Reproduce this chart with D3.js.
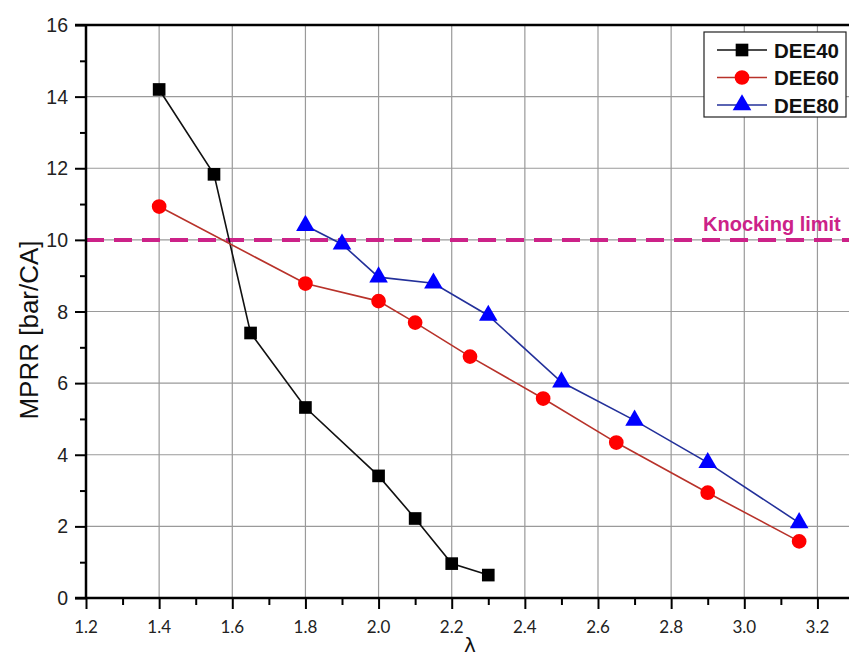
<!DOCTYPE html>
<html>
<head>
<meta charset="utf-8">
<script src="https://cdn.jsdelivr.net/npm/d3@7"></script>
<style>
  body { margin: 0; background: #fff; }
  svg { display: block; }
</style>
</head>
<body>
<svg width="849" height="659"></svg>
<script>
// values
const dee40X = [1.4, 1.55, 1.65, 1.8, 2.0, 2.1, 2.2, 2.3];
const dee40Y = [14.2, 11.83, 7.4, 5.32, 3.41, 2.22, 0.96, 0.64];
const dee60X = [1.4, 1.8, 2.0, 2.1, 2.25, 2.45, 2.65, 2.9, 3.15];
const dee60Y = [10.93, 8.78, 8.29, 7.69, 6.74, 5.57, 4.34, 2.94, 1.58];
const dee80X = [1.8, 1.9, 2.0, 2.15, 2.3, 2.5, 2.7, 2.9, 3.15];
const dee80Y = [10.4, 9.88, 8.96, 8.79, 7.89, 6.03, 4.96, 3.78, 2.1];
const knockLimit = 10;
const xTicks = [1.2, 1.4, 1.6, 1.8, 2.0, 2.2, 2.4, 2.6, 2.8, 3.0, 3.2];
const yTicks = [0, 2, 4, 6, 8, 10, 12, 14, 16];

const svg = d3.select('svg');
const plotL = 86, plotR = 854, plotT = 25, plotB = 598;

const x = d3.scaleLinear().domain([1.2, 3.3]).range([plotL, plotR]);
const y = d3.scaleLinear().domain([0, 16]).range([plotB, plotT]);

const series = [
    {name: 'DEE40', xs: dee40X, ys: dee40Y, line: '#111', fill: '#000', shape: d3.symbolSquare, size: 160},
    {name: 'DEE60', xs: dee60X, ys: dee60Y, line: '#b8322a', fill: '#ff0000', shape: d3.symbolCircle, size: 170},
    {name: 'DEE80', xs: dee80X, ys: dee80Y, line: '#23309a', fill: '#0000ff', shape: d3.symbolTriangle, size: 150}
];

// grid
const grid = svg.append('g');
grid.selectAll('.gx')
    .data(xTicks.slice(1))
    .enter()
    .append('line')
    .attr('x1', d => x(d)).attr('x2', d => x(d))
    .attr('y1', plotT).attr('y2', plotB)
    .attr('stroke', '#9a9a9a').attr('stroke-width', 1.2);
grid.selectAll('.gy')
    .data(yTicks.slice(1, -1))
    .enter()
    .append('line')
    .attr('x1', plotL).attr('x2', 849)
    .attr('y1', d => y(d)).attr('y2', d => y(d))
    .attr('stroke', '#9a9a9a').attr('stroke-width', 1.2);

// knocking limit
svg.append('line')
    .attr('x1', plotL).attr('x2', 849)
    .attr('y1', y(knockLimit)).attr('y2', y(knockLimit))
    .attr('stroke', '#cc2288')
    .attr('stroke-width', 4)
    .attr('stroke-dasharray', '18,10');

svg.append('text')
    .attr('x', 703)
    .attr('y', 231)
    .text('Knocking limit')
    .style('font-family', 'Liberation Sans, Arial, sans-serif')
    .style('font-size', '20px')
    .style('font-weight', 'bold')
    .style('fill', '#cc2288');

// axes
const xAxis = d3.axisBottom(x)
    .tickValues(d3.range(12, 33).map(d => d / 10))
    .tickSize(0)
    .tickFormat('');
const gx = svg.append('g').attr('transform', `translate(0,${plotB})`);
gx.call(xAxis);
gx.select('.domain').remove();
gx.selectAll('.tick line')
    .attr('y2', (d, i) => i % 2 === 0 ? 11 : 7)
    .attr('stroke', '#000')
    .attr('stroke-width', 2);
gx.selectAll('.lbl')
    .data(xTicks)
    .enter()
    .append('text')
    .attr('x', d => x(d))
    .attr('y', 35)
    .attr('text-anchor', 'middle')
    .text(d => d.toFixed(1))
    .style('font-family', 'Lato, sans-serif')
    .style('font-size', '17px')
    .style('fill', '#222');

const yAxis = d3.axisLeft(y)
    .tickValues(d3.range(0, 17))
    .tickSize(0)
    .tickFormat('');
const gy = svg.append('g').attr('transform', `translate(${plotL},0)`);
gy.call(yAxis);
gy.select('.domain').remove();
gy.selectAll('.tick line')
    .attr('x2', (d, i) => i % 2 === 0 ? -11 : -6)
    .attr('stroke', '#000')
    .attr('stroke-width', 2);
gy.selectAll('.lbl')
    .data(yTicks)
    .enter()
    .append('text')
    .attr('x', -18)
    .attr('y', d => y(d) + 7)
    .attr('text-anchor', 'end')
    .text(d => d)
    .style('font-family', 'Liberation Sans, Arial, sans-serif')
    .style('font-size', '19.5px')
    .style('fill', '#222');

// frame lines
svg.append('line')
    .attr('x1', plotL).attr('x2', plotL).attr('y1', plotT - 1).attr('y2', plotB + 1)
    .attr('stroke', '#000').attr('stroke-width', 2.5);
svg.append('line')
    .attr('x1', plotL - 11).attr('x2', 849).attr('y1', plotB).attr('y2', plotB)
    .attr('stroke', '#000').attr('stroke-width', 2.5);
svg.append('line')
    .attr('x1', plotL - 11).attr('x2', 849).attr('y1', plotT).attr('y2', plotT)
    .attr('stroke', '#000').attr('stroke-width', 2.5);

// axis titles
svg.append('text')
    .attr('transform', 'translate(38,330) rotate(-90)')
    .attr('text-anchor', 'middle')
    .text('MPRR [bar/CA]')
    .style('font-family', 'Liberation Sans, Arial, sans-serif')
    .style('font-size', '26px')
    .style('fill', '#111');

svg.append('text')
    .attr('x', x(2.25))
    .attr('y', 652)
    .attr('text-anchor', 'middle')
    .text('λ')
    .style('font-family', 'DejaVu Sans, sans-serif')
    .style('font-size', '20px')
    .style('fill', '#111');

// series
const line = d3.line().x(d => x(d[0])).y(d => y(d[1]));
series.forEach(s => {
    const pts = s.xs.map((v, i) => [v, s.ys[i]]);
    svg.append('path')
        .datum(pts)
        .attr('d', line)
        .attr('fill', 'none')
        .attr('stroke', s.line)
        .attr('stroke-width', 1.6);
    svg.selectAll('.m-' + s.name)
        .data(pts)
        .enter()
        .append('path')
        .attr('transform', d => `translate(${x(d[0])},${y(d[1])})`)
        .attr('d', d3.symbol().type(s.shape).size(s.size))
        .attr('fill', s.fill);
});

// legend
const lg = svg.append('g').attr('transform', 'translate(704,32)');
lg.append('rect')
    .attr('width', 142).attr('height', 85)
    .attr('fill', '#fff')
    .attr('stroke', '#222').attr('stroke-width', 1.2);
series.forEach((s, i) => {
    const ly = 18 + i * 27.5;
    lg.append('line')
        .attr('x1', 13).attr('x2', 63).attr('y1', ly).attr('y2', ly)
        .attr('stroke', s.line).attr('stroke-width', 1.6);
    lg.append('path')
        .attr('transform', `translate(38,${ly})`)
        .attr('d', d3.symbol().type(s.shape).size(s.size))
        .attr('fill', s.fill);
    lg.append('text')
        .attr('x', 70).attr('y', ly + 7.5)
        .text(s.name)
        .style('font-family', 'Liberation Sans, Arial, sans-serif')
        .style('font-size', '20.5px')
        .style('font-weight', 'bold')
        .style('fill', '#111');
});
</script>
</body>
</html>
